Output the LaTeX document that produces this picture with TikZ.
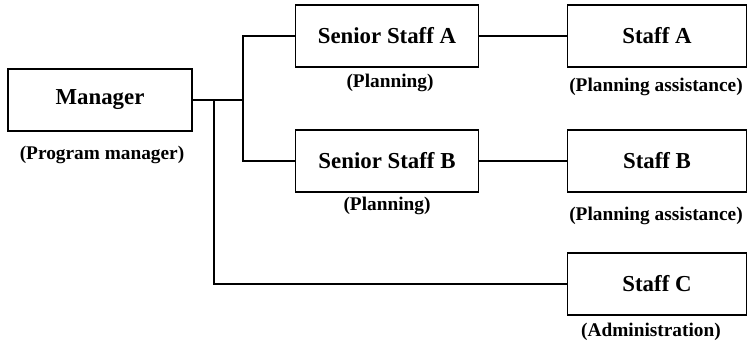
\documentclass[tikz,border=0pt]{standalone}
\usepackage{fontspec}
\setmainfont{Liberation Serif}
\usepackage{tikz}

\begin{document}
\begin{tikzpicture}[x=0.02cm, y=-0.02cm,
    post/.style={draw, thick, inner sep=0pt, minimum height=1.24cm, font=\fontsize{13}{15}\selectfont\bfseries},
    role/.style={font=\fontsize{11}{13}\selectfont\bfseries}]
    \useasboundingbox (0,0) rectangle (748,345);
    % boxes
    \node (mgr) at (100,100) [post, minimum width=3.68cm] {Manager};
    \node (snrA) at (387,36) [post, minimum width=3.66cm] {Senior Staff A};
    \node (snrB) at (387,161) [post, minimum width=3.66cm] {Senior Staff B};
    \node (stfA) at (657,36) [post, minimum width=3.58cm] {Staff A};
    \node (stfB) at (657,161) [post, minimum width=3.58cm] {Staff B};
    \node (stfC) at (657,284) [post, minimum width=3.58cm] {Staff C};
    % roles
    \node (rMgr) at (102,155) [role] {(Program manager)};
    \node (rSnrA) at (390,83) [role] {(Planning)};
    \node (rSnrB) at (387,206) [role] {(Planning)};
    \node (rStfA) at (656,87) [role] {(Planning assistance)};
    \node (rStfB) at (656,216) [role] {(Planning assistance)};
    \node (rStfC) at (651,332) [role] {(Administration)};
    % lines
    \coordinate (jB) at (243,100);
    \coordinate (jC) at (214,100);
    \draw[thick] (mgr.east) -- (jB);
    \draw[thick] (jB) |- (snrA.west);
    \draw[thick] (jB) |- (snrB.west);
    \draw[thick] (jC) |- (stfC.west);
    \draw[thick] (snrA) -- (stfA);
    \draw[thick] (snrB) -- (stfB);
  \end{tikzpicture}
\end{document}
